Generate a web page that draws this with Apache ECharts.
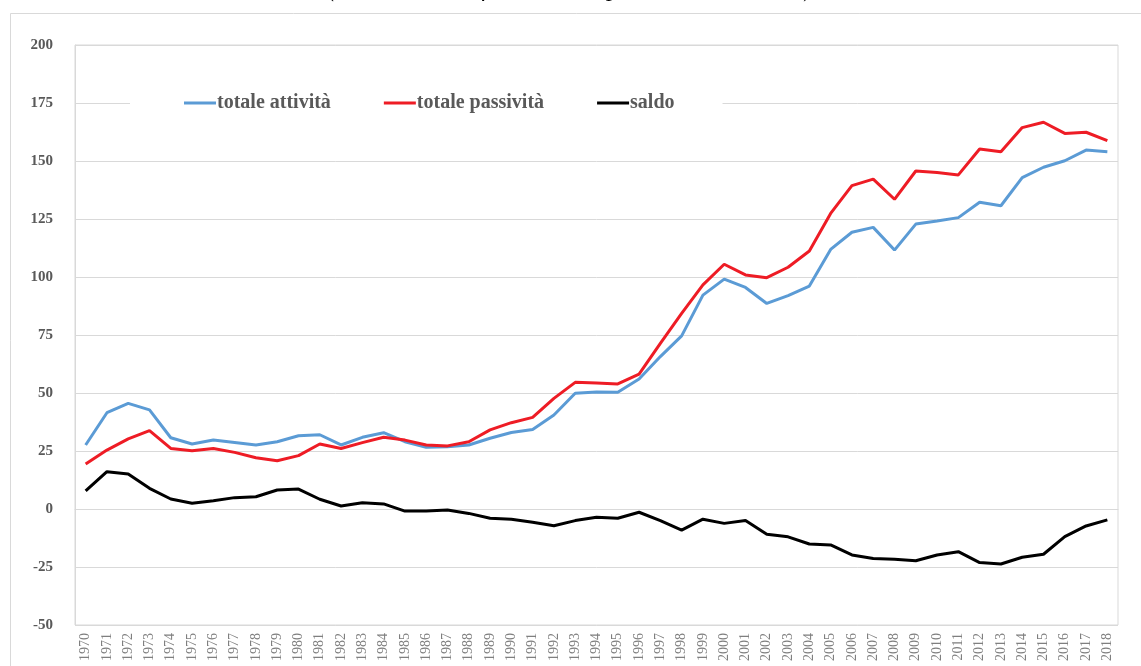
<!DOCTYPE html>
<html>
<head>
<meta charset="utf-8">
<script src="https://cdn.jsdelivr.net/npm/echarts@6/dist/echarts.min.js"></script>
<style>
  html, body { margin: 0; padding: 0; background: #fff; }
  #chart { width: 1141px; height: 666px; }
</style>
</head>
<body>
<div id="chart"></div>
<script>
// ==================== DATA ====================
const years = [];
for (let y = 1970; y <= 2018; y++) years.push(String(y));

const attivita = [
  27.6, 41.5, 45.5, 42.7, 30.7, 28.0, 29.7, 28.7, 27.6, 29.0,
  31.6, 32.0, 27.6, 30.9, 32.9, 29.0, 26.6, 26.8, 27.6, 30.5,
  33.0, 34.3, 40.5, 49.9, 50.4, 50.3, 56.0, 65.7, 74.6, 92.2,
  99.1, 95.5, 88.6, 92.0, 96.1, 111.9, 119.3, 121.4, 111.6, 122.8,
  124.1, 125.6, 132.2, 130.7, 142.8, 147.3, 150.1, 154.7, 154.0
];
const passivita = [
  19.4, 25.4, 30.2, 33.8, 26.1, 25.1, 26.1, 24.4, 22.1, 20.8,
  23.0, 28.0, 26.1, 28.6, 30.9, 29.7, 27.6, 27.2, 29.0, 34.1,
  37.2, 39.5, 47.7, 54.6, 54.3, 53.9, 58.1, 71.4, 84.3, 96.6,
  105.5, 100.9, 99.7, 104.2, 111.2, 127.4, 139.4, 142.2, 133.5, 145.7,
  145.0, 144.0, 155.2, 154.0, 164.4, 166.7, 161.9, 162.4, 158.8
];
const saldo = [
  7.8, 16.1, 15.1, 8.9, 4.3, 2.5, 3.6, 4.9, 5.3, 8.2,
  8.6, 4.2, 1.3, 2.7, 2.2, -0.9, -0.9, -0.4, -1.9, -4.0,
  -4.4, -5.7, -7.2, -5.0, -3.6, -4.0, -1.4, -5.0, -9.1, -4.4,
  -6.2, -5.0, -10.9, -12.0, -15.1, -15.5, -19.8, -21.3, -21.7, -22.3,
  -19.8, -18.4, -23.1, -23.7, -20.8, -19.5, -11.9, -7.3, -4.7
];
const seriesNames = ['totale attività', 'totale passività', 'saldo'];
const titleText = '(consistenze di fine anno in percentuale del PIL)';

// ==================== CHART ====================
const chart = echarts.init(document.getElementById('chart'));
const gray = '#595959', lineC = '#d9d9d9';
const serif = '"Liberation Serif", "DejaVu Serif", serif';

chart.setOption({
  backgroundColor: '#fff',
  animation: false,
  graphic: [{
    type: 'rect', z: -10, silent: true,
    shape: { x: 10.5, y: 13.5, width: 1140, height: 660 },
    style: { fill: 'none', stroke: lineC, lineWidth: 1 }
  }],
  title: {
    text: titleText, left: 'center', top: -28,
    textStyle: { fontFamily: serif, fontStyle: 'italic', fontWeight: 'normal', fontSize: 25, color: '#000' }
  },
  grid: { left: 75, right: 23, top: 45, bottom: 41, show: true, borderColor: lineC, borderWidth: 1 },
  legend: {
    left: 130, top: 89,
    data: seriesNames,
    backgroundColor: '#fff',
    padding: [4, 48, 4, 54],
    itemWidth: 32, itemHeight: 3, itemGap: 53,
    icon: 'rect',
    textStyle: { fontFamily: serif, fontWeight: 'bold', fontSize: 20, color: gray, padding: [0, 0, 0, -4] }
  },
  xAxis: {
    type: 'category', data: years, boundaryGap: true,
    axisLine: { lineStyle: { color: lineC } },
    axisTick: { show: false },
    axisLabel: { interval: 0, rotate: 90, margin: 8, fontFamily: serif, fontSize: 14, color: '#7f7f7f' }
  },
  yAxis: {
    type: 'value', min: -50, max: 200, interval: 25,
    axisLine: { show: true, lineStyle: { color: lineC } },
    axisTick: { show: false },
    axisLabel: { margin: 22, fontFamily: serif, fontWeight: 'bold', fontSize: 15, color: gray },
    splitLine: { lineStyle: { color: lineC } }
  },
  series: [
    { name: seriesNames[0], type: 'line', data: attivita, symbol: 'none', lineStyle: { color: '#5b9bd5', width: 3 }, itemStyle: { color: '#5b9bd5' } },
    { name: seriesNames[1], type: 'line', data: passivita, symbol: 'none', lineStyle: { color: '#ee1c25', width: 3 }, itemStyle: { color: '#ee1c25' } },
    { name: seriesNames[2], type: 'line', data: saldo, symbol: 'none', lineStyle: { color: '#000', width: 3 }, itemStyle: { color: '#000' } }
  ]
});
</script>
</body>
</html>
